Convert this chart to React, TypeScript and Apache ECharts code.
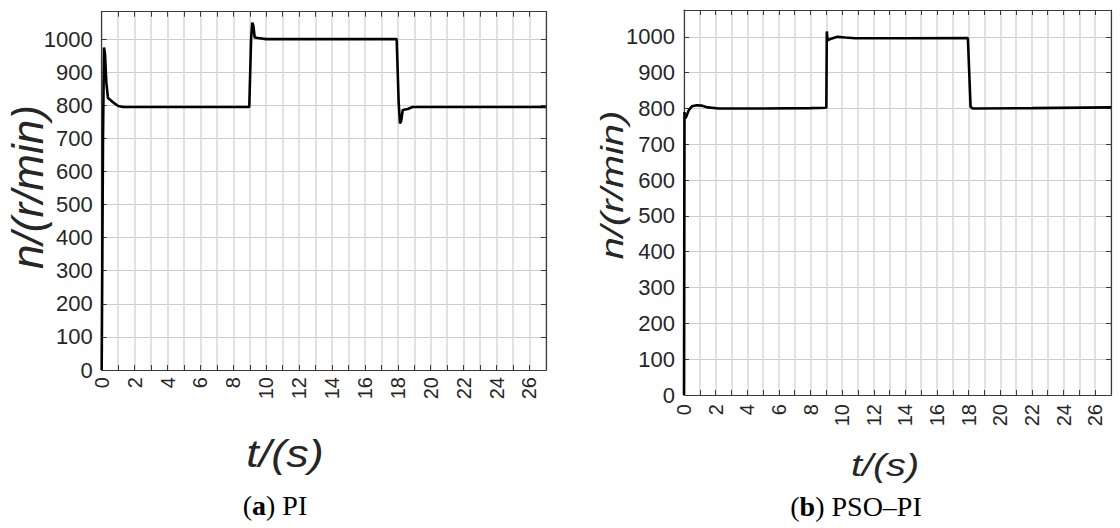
import React, { useEffect, useRef } from "react";
import * as echarts from "echarts";

// ---- data ----
const timeRange = [0, 27];
const timeTickStep = 1;
const timeTickLabels = [0, 2, 4, 6, 8, 10, 12, 14, 16, 18, 20, 22, 24, 26];
const speedTickStep = 100;
const speedMaxA = 1083;
const speedMaxB = 1075;

// (a) PI response
const piTime = [0, 0.08, 0.14, 0.2, 0.28, 0.38, 0.55, 0.8, 1.0, 1.3, 5, 8.97, 9.08, 9.15, 9.22, 9.3, 9.6, 10.0, 14, 17.93, 18.05, 18.13, 18.2, 18.3, 18.6, 18.9, 23, 27];
const piSpeed = [0, 700, 975, 955, 870, 822, 815, 805, 798, 795, 795, 795, 1000, 1050, 1040, 1005, 1003, 1000, 1000, 1000, 810, 745, 752, 786, 789, 795, 795, 795];

// (b) PSO-PI response
const psoTime = [0, 0.03, 0.08, 0.15, 0.3, 0.5, 0.8, 1.1, 1.5, 2.2, 5, 8, 9.0, 9.03, 9.08, 9.3, 9.7, 10.2, 10.8, 14, 17.95, 18.12, 18.25, 22, 27];
const psoSpeed = [0, 790, 772, 778, 795, 806, 809, 808, 803, 800, 800, 801, 802, 1015, 990, 995, 1000, 998, 996, 996, 997, 805, 800, 801, 803];

const pairs = (xs: number[], ys: number[]) => xs.map((x, i) => [x, ys[i]]);

const AXIS_COLOR = "#3a3a3a";
const LABEL_COLOR = "#262626";
const SANS = "'Liberation Sans', Arial, sans-serif";
const SERIF = "'Liberation Serif', 'Times New Roman', serif";

function xBottom(gi: number) {
  return {
    type: "value",
    gridIndex: gi,
    min: timeRange[0],
    max: timeRange[1],
    interval: timeTickStep,
    position: "bottom",
    axisLine: { show: true, onZero: false, lineStyle: { color: AXIS_COLOR, width: 1.2 } },
    axisTick: { show: true, inside: true, length: 5, lineStyle: { color: AXIS_COLOR } },
    axisLabel: { show: false },
    splitLine: { show: true, lineStyle: { color: "#d9d9d9", width: 1.5 } },
  };
}
function xTop(gi: number) {
  return {
    type: "value",
    gridIndex: gi,
    min: timeRange[0],
    max: timeRange[1],
    interval: timeTickStep,
    position: "top",
    axisLine: { show: true, onZero: false, lineStyle: { color: AXIS_COLOR, width: 1.2 } },
    axisTick: { show: true, inside: true, length: 5, lineStyle: { color: AXIS_COLOR } },
    axisLabel: { show: false },
    splitLine: { show: false },
  };
}
function yLeft(gi: number, max: number) {
  return {
    type: "value",
    gridIndex: gi,
    min: 0,
    max,
    interval: speedTickStep,
    position: "left",
    axisLine: { show: true, onZero: false, lineStyle: { color: AXIS_COLOR, width: 1.2 } },
    axisTick: { show: true, inside: true, length: 5, lineStyle: { color: AXIS_COLOR } },
    axisLabel: {
      show: true,
      margin: 9,
      fontSize: 22,
      color: LABEL_COLOR,
      fontFamily: SANS,
      formatter: (v: number) => (v % speedTickStep === 0 ? String(v) : ""),
    },
    splitLine: { show: true, lineStyle: { color: "#cccccc", width: 1 } },
  };
}
function yRight(gi: number, max: number) {
  return {
    type: "value",
    gridIndex: gi,
    min: 0,
    max,
    interval: speedTickStep,
    position: "right",
    axisLine: { show: true, onZero: false, lineStyle: { color: AXIS_COLOR, width: 1.2 } },
    axisTick: { show: true, inside: true, length: 5, lineStyle: { color: AXIS_COLOR } },
    axisLabel: { show: false },
    splitLine: { show: false },
  };
}

function textEl(text: string, x: number, y: number, font: string, opts: any = {}) {
  const style: any = {
    text,
    font,
    fill: opts.fill || LABEL_COLOR,
    align: opts.align || "center",
    verticalAlign: "middle",
  };
  if (opts.rich) style.rich = opts.rich;
  return {
    type: "text",
    x,
    y,
    rotation: opts.rotation || 0,
    scaleX: opts.scaleX || 1,
    scaleY: opts.scaleY || 1,
    style,
  };
}

const fullDiv: React.CSSProperties = { position: "absolute", left: 0, top: 0, width: 1120, height: 528 };

export default function App() {
  const chartRef = useRef<HTMLDivElement>(null);
  const textRef = useRef<HTMLDivElement>(null);
  useEffect(() => {
    if (!chartRef.current || !textRef.current) return;
    const chart = echarts.init(chartRef.current, undefined, { renderer: "svg" });
    chart.setOption({
      animation: false,
      grid: [
        { left: 101.7, top: 11.7, width: 444.2, height: 358.3, outerBoundsMode: "none", containLabel: false },
        { left: 684, top: 10, width: 427, height: 385, outerBoundsMode: "none", containLabel: false },
      ],
      xAxis: [xBottom(0), xTop(0), xBottom(1), xTop(1)],
      yAxis: [yLeft(0, speedMaxA), yRight(0, speedMaxA), yLeft(1, speedMaxB), yRight(1, speedMaxB)],
      series: [
        {
          type: "line",
          xAxisIndex: 0,
          yAxisIndex: 0,
          data: pairs(piTime, piSpeed),
          showSymbol: false,
          lineStyle: { color: "#000", width: 2.6 },
        },
        {
          type: "line",
          xAxisIndex: 2,
          yAxisIndex: 2,
          data: pairs(psoTime, psoSpeed),
          showSymbol: false,
          lineStyle: { color: "#000", width: 2.6 },
        },
      ],
    });

    // rotated time-axis tick labels, positioned through the chart's own axis scales
    const tickLabels: any[] = [];
    const panels = [
      { xAxisIndex: 0, yAxisIndex: 0, margin: 7 },
      { xAxisIndex: 2, yAxisIndex: 2, margin: 9 },
    ];
    panels.forEach((p) => {
      const y0 = chart.convertToPixel({ yAxisIndex: p.yAxisIndex }, 0) as number;
      timeTickLabels.forEach((v) => {
        const px = chart.convertToPixel({ xAxisIndex: p.xAxisIndex }, v) as number;
        tickLabels.push(
          textEl(String(v), px, y0 + p.margin, `20px ${SANS}`, { rotation: Math.PI / 2, align: "right" })
        );
      });
    });

    const texts = echarts.init(textRef.current, undefined, { renderer: "svg" });
    const serifRich = { b: { font: `bold 28px ${SERIF}`, fill: "#000" } };
    texts.setOption({
      animation: false,
      graphic: [
        ...tickLabels,
        textEl("n/(r/min)", 27, 187, `italic 44px ${SANS}`, { rotation: Math.PI / 2 }),
        textEl("n/(r/min)", 612, 185, `italic 40px ${SANS}`, { rotation: Math.PI / 2, scaleY: 0.8 }),
        textEl("t/(s)", 285, 453, `italic 42px ${SANS}`, { scaleX: 1.07, scaleY: 0.94 }),
        textEl("t/(s)", 885, 465, `italic 36px ${SANS}`, { scaleX: 1.1, scaleY: 0.88 }),
        textEl("({b|a}) PI", 275, 505, `28px ${SERIF}`, { fill: "#000", rich: serifRich }),
        textEl("({b|b}) PSO–PI", 856, 506, `28px ${SERIF}`, { fill: "#000", rich: serifRich }),
      ],
    });
    return () => {
      chart.dispose();
      texts.dispose();
    };
  }, []);
  return (
    <div style={{ position: "absolute", left: 0, top: 0, width: 1120, height: 528 }}>
      <div ref={chartRef} style={fullDiv} />
      <div ref={textRef} style={{ ...fullDiv, pointerEvents: "none" }} />
    </div>
  );
}
